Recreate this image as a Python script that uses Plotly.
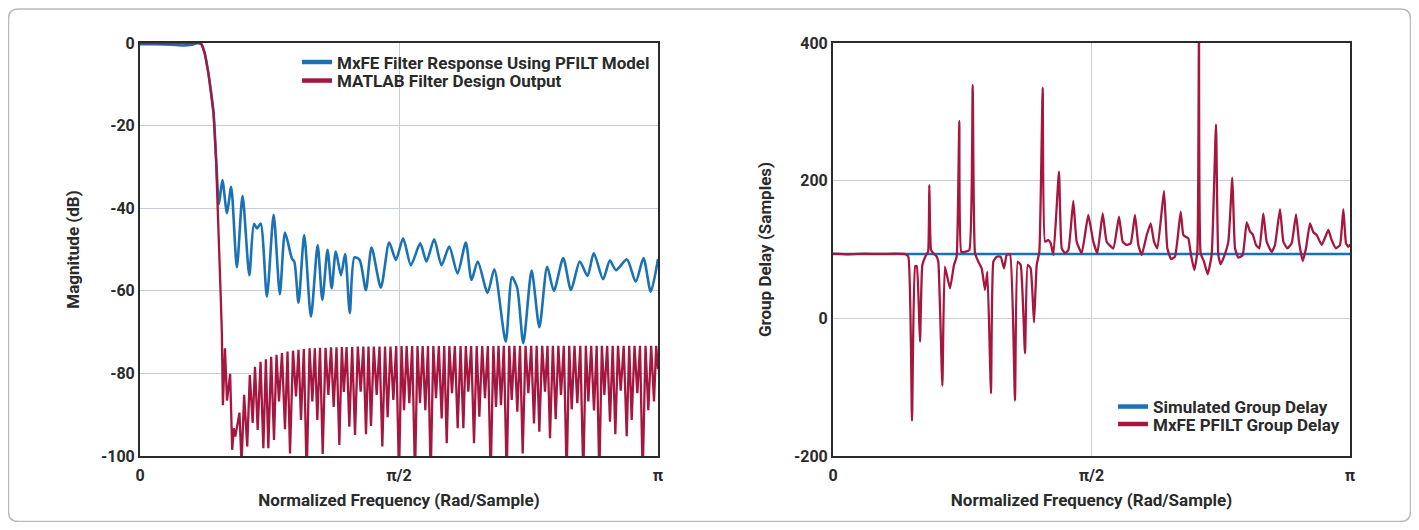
import plotly.graph_objects as go

# ---------------- data (normalized frequency, x = w/pi) ----------------
mag_blue_x = [0, 0.03, 0.06, 0.085, 0.1, 0.112, 0.119, 0.125, 0.132, 0.142, 0.147, 0.1525,
              0.159, 0.168, 0.176, 0.187, 0.198, 0.211, 0.220, 0.226, 0.233, 0.245, 0.258,
              0.270, 0.280, 0.293, 0.298, 0.306, 0.317, 0.330, 0.343, 0.352, 0.362, 0.370,
              0.378, 0.388, 0.396, 0.405, 0.414, 0.424, 0.436, 0.447, 0.465, 0.481, 0.494,
              0.508, 0.523, 0.541, 0.553, 0.568, 0.582, 0.597, 0.613, 0.629, 0.640, 0.652,
              0.671, 0.684, 0.706, 0.718, 0.728, 0.740, 0.756, 0.771, 0.786, 0.799, 0.817,
              0.832, 0.849, 0.864, 0.876, 0.894, 0.907, 0.919, 0.940, 0.957, 0.972, 0.986, 1.0]
mag_blue_y = [-0.3, -0.3, -0.4, -0.6, -0.4, 0, -0.4, -2.5, -7.3, -17, -28, -39,
              -33.2, -41.2, -34.8, -54.3, -37.0, -56.2, -43.8, -44.9, -43.7, -61.4, -41.6,
              -60.8, -45.9, -52.1, -53, -62.9, -46.5, -66.3, -48.9, -62.2, -50.1, -59.4,
              -50.5, -56.2, -51.1, -65.4, -51.9, -52.5, -59.8, -49.5, -59.2, -48.3, -52.5,
              -47.3, -53.8, -48.5, -52.9, -47.5, -53.8, -49.3, -55.8, -48.3, -57.4, -52.9,
              -60.5, -54.8, -72.3, -56.7, -59.2, -72.7, -55.1, -68.8, -54.2, -60.0, -52.1,
              -59.8, -52.9, -56.4, -50.9, -57.2, -52.7, -55.0, -52.4, -57.8, -52.1, -60.2, -52.3]

mag_red_x = [0, 0.05, 0.1, 0.115, 0.119, 0.125, 0.132, 0.142, 0.147, 0.152, 0.156, 0.158,
             0.160, 0.164, 0.168, 0.174, 0.178, 0.181, 0.184, 0.192, 0.196, 0.201, 0.207,
             0.212, 0.2175, 0.222, 0.2272, 0.2327, 0.2381, 0.243, 0.2477, 0.2532, 0.2587,
             0.2635, 0.2683, 0.2741, 0.2799, 0.2848, 0.2896, 0.2954, 0.3012, 0.306, 0.3108,
             0.3163, 0.3218, 0.3273, 0.3327, 0.3375, 0.3423, 0.3475, 0.3527, 0.3582, 0.3636,
             0.3688, 0.3739, 0.3794, 0.3848, 0.3897, 0.3935, 0.3988, 0.4041, 0.4096, 0.4151,
             0.4205, 0.4260, 0.4312, 0.4363, 0.4411, 0.4459, 0.4514, 0.4569, 0.4624, 0.4678,
             0.4730, 0.4781, 0.4836, 0.4891, 0.4946, 0.5000, 0.5049, 0.5097, 0.5148, 0.5199,
             0.5254, 0.5309, 0.5357, 0.5405, 0.5457, 0.5508, 0.5560, 0.5612, 0.5663, 0.5714,
             0.5769, 0.5824, 0.5873, 0.5921, 0.5972, 0.6023, 0.6078, 0.6133, 0.6188, 0.6242,
             0.6290, 0.6338, 0.6393, 0.6448, 0.6500, 0.6551, 0.6606, 0.6660, 0.6715, 0.6770,
             0.6822, 0.6873, 0.6921, 0.6969, 0.7024, 0.7079, 0.7128, 0.7176, 0.7230, 0.7284,
             0.7336, 0.7388, 0.7443, 0.7497, 0.7552, 0.7606, 0.7658, 0.7709, 0.7764, 0.7819,
             0.7867, 0.7915, 0.7970, 0.8025, 0.8076, 0.8127, 0.8182, 0.8237, 0.8286, 0.8334,
             0.8388, 0.8442, 0.8500, 0.8558, 0.8607, 0.8655, 0.8710, 0.8764, 0.8816, 0.8867,
             0.8916, 0.8964, 0.9019, 0.9073, 0.9125, 0.9176, 0.9228, 0.9280, 0.9338, 0.9396,
             0.9444, 0.9492, 0.9547, 0.9601, 0.9653, 0.9704, 0.9759, 0.9813, 0.9868, 0.9923,
             0.9965, 1.0]
mag_red_y = [0, 0, 0, 0, -0.3, -2.5, -7.3, -17, -29, -45, -62, -70,
             -87.7, -73.9, -86.6, -80.1, -98.5, -93.3, -95.3, -89.5, -102, -85.2, -97.7,
             -80.4, -92, -78.4, -93.7, -77.2, -98.1, -76.6, -98.1, -76.0, -96.1,
             -75.5, -86.8, -75.1, -93.5, -74.7, -99.4, -74.5, -85.6, -74.3, -91.3,
             -74.1, -105, -73.9, -86.8, -73.9, -91.3, -73.8, -99.5, -73.8, -85.2,
             -73.7, -88.1, -73.7, -97.3, -73.6, -84.5, -73.6, -92.9, -73.6, -94.9,
             -73.5, -84.4, -73.5, -94.7, -73.5, -92.7, -73.5, -85.2, -73.5, -97.7,
             -73.5, -90.6, -73.5, -86.4, -73.4, -105, -73.4, -88.9, -73.4, -87.2,
             -73.4, -105, -73.4, -87.2, -73.4, -88.9, -73.4, -105, -73.4, -86.0,
             -73.4, -90.9, -73.4, -96.9, -73.4, -84.8, -73.4, -93.3, -73.4, -93.3,
             -73.4, -84.4, -73.4, -96.9, -73.4, -90.5, -73.4, -86.0, -73.4, -105,
             -73.4, -88.1, -73.3, -87.7, -73.3, -105, -73.3, -86.4, -73.3, -89.3,
             -73.3, -99.4, -73.3, -84.8, -73.3, -92.1, -73.3, -94.1, -73.3, -84.4,
             -73.3, -95.7, -73.3, -91.1, -73.3, -85.2, -73.3, -105, -73.3, -88.7,
             -73.3, -87.2, -73.3, -105, -73.3, -86.8, -73.3, -89.0, -73.3, -105,
             -73.3, -85.2, -73.3, -91.7, -73.3, -94.7, -73.3, -84.2, -73.3, -95.2,
             -73.3, -91.3, -73.3, -84.8, -73.3, -105, -73.3, -88.9, -73.3, -86.8,
             -73.3, -79]

gd_sim_x = [0, 1.0]
gd_sim_y = [93.5, 93.5]

gd_pf_x = [0, 0.03, 0.06, 0.09, 0.12, 0.1393, 0.1457, 0.1528, 0.1590, 0.1620, 0.1683, 0.1728,
           0.1800, 0.1840, 0.1863, 0.1896, 0.1940, 0.2005, 0.2037, 0.2115, 0.2164, 0.2263,
           0.2340, 0.2392, 0.2443, 0.2482, 0.2553, 0.2637, 0.2702, 0.2747, 0.2811, 0.2876,
           0.2941, 0.2986, 0.3056, 0.3102, 0.3166, 0.3243, 0.3308, 0.3359, 0.3424, 0.3520,
           0.3572, 0.3630, 0.3714, 0.3765, 0.3823, 0.3888, 0.3940, 0.3991, 0.4056, 0.4102,
           0.4166, 0.4211, 0.4263, 0.4371, 0.4424, 0.4488, 0.4553, 0.4648, 0.4713, 0.4810,
           0.4938, 0.5035, 0.5113, 0.5216, 0.5293, 0.5422, 0.5532, 0.5603, 0.5680, 0.5758,
           0.5841, 0.5906, 0.5971, 0.6068, 0.6145, 0.6209, 0.6274, 0.6402, 0.6467, 0.6538,
           0.6615, 0.6725, 0.6776, 0.6822, 0.6873, 0.6925, 0.6989, 0.7047, 0.7079, 0.7111,
           0.7176, 0.7247, 0.7324, 0.7408, 0.7453, 0.7498, 0.7563, 0.7647, 0.7724, 0.7776,
           0.7840, 0.7924, 0.8002, 0.8066, 0.8118, 0.8182, 0.8247, 0.8323, 0.8388, 0.8485,
           0.8549, 0.8646, 0.8711, 0.8788, 0.8872, 0.8956, 0.9014, 0.9085, 0.9149, 0.9226,
           0.9291, 0.9356, 0.9453, 0.9581, 0.9645, 0.9729, 0.9807, 0.9871, 0.9923, 0.9968, 1.0]
gd_pf_y = [94, 93, 94, 93.5, 94, 93.5, 89.6, -149, 76, 76, -33.9, 77.5,
           92, 97, 193.7, 99.3, 94.5, 89.6, 82.3, -97.8, 75, 43.6,
           77.5, 89.6, 286.7, 96.6, 96.6, 99, 339, 94.5, 82.3, 72.6,
           41.2, 67.8, -109, 82.3, 89.6, 89.6, 72.6, 92, 93, -119.6,
           82.3, 77.5, -50.8, 77.5, 72.6, -5.8, 77.5, 96.6, 335, 111.4,
           113.8, 109, 92, 213, 101.7, 94.5, 99.3, 170.5, 111.4, 94.5,
           150.1, 111.4, 94.5, 152.5, 111.4, 101.7, 147.7, 111.4, 106.6, 109,
           150.1, 106.6, 92, 121, 138, 111.4, 101.7, 185, 101.7, 86.2,
           89.6, 155, 121, 118.6, 116.2, 92, 70.2, 96.6, 430, 94.5,
           82.3, 63.9, 92, 281.8, 92, 78.5, 89.6, 111.4, 204.4, 101.7,
           88.2, 92, 139.5, 126, 122, 106.6, 101.7, 152.5, 111.4, 96.6,
           106.6, 158.8, 111.4, 101.7, 109, 151.1, 111.4, 83.3, 101.7, 138,
           125, 121, 106.6, 128.3, 113.8, 101.7, 106.6, 158.8, 109, 104, 107.6]

x_tickvals = [0, 0.5, 1.0]
x_ticktext = ["0", "π/2", "π"]
mag_ticks = [0, -20, -40, -60, -80, -100]
gd_ticks = [400, 200, 0, -200]

names_left = ["MxFE Filter Response Using PFILT Model", "MATLAB Filter Design Output"]
names_right = ["Simulated Group Delay", "MxFE PFILT Group Delay"]

BLUE = "#1a72b5"
RED = "#a5173e"
TXT = "#2a2a2a"
GRID = "#c9cdd5"
FRAME = "#2b2b2b"
FONT = "Roboto"

# page body keeps its default 8px margin, so the figure is 16px smaller than the window
OFF = 8
W, H = 1419 - 2 * OFF, 530 - 2 * OFF


def px_x(p):
    return (p - OFF) / W


def px_y(p):
    return 1 - (p - OFF) / H


fig = go.Figure()
fig.add_trace(go.Scatter(x=mag_blue_x, y=mag_blue_y, mode="lines", name=names_left[0],
                         line=dict(color=BLUE, width=2.6, shape="spline", smoothing=0.7),
                         xaxis="x", yaxis="y", showlegend=False))
fig.add_trace(go.Scatter(x=mag_red_x, y=mag_red_y, mode="lines", name=names_left[1],
                         line=dict(color=RED, width=2.3),
                         xaxis="x", yaxis="y", showlegend=False))
fig.add_trace(go.Scatter(x=gd_sim_x, y=gd_sim_y, mode="lines", name=names_right[0],
                         line=dict(color=BLUE, width=2.6),
                         xaxis="x2", yaxis="y2", showlegend=False))
fig.add_trace(go.Scatter(x=gd_pf_x, y=gd_pf_y, mode="lines", name=names_right[1],
                         line=dict(color=RED, width=2.3, shape="spline", smoothing=0.4),
                         xaxis="x2", yaxis="y2", showlegend=False))

# legend entries (thicker key lines, one legend box per entry for exact row spacing)
legend_entries = [
    (names_left[0], BLUE, "x", "y", "legend"),
    (names_left[1], RED, "x", "y", "legend2"),
    (names_right[0], BLUE, "x2", "y2", "legend3"),
    (names_right[1], RED, "x2", "y2", "legend4"),
]
for nm, col, xa, ya, lg in legend_entries:
    fig.add_trace(go.Scatter(x=[None], y=[None], mode="lines", name=nm,
                             line=dict(color=col, width=4.5), xaxis=xa, yaxis=ya,
                             legend=lg, showlegend=True, hoverinfo="skip"))

tickfont = dict(family=FONT, size=16, color=TXT, weight=700)
titlefont = dict(family=FONT, size=17, color=TXT, weight=700)
legfont = dict(family=FONT, size=17, color=TXT, weight=700)

common_x = dict(range=[0, 1], tickvals=x_tickvals, ticktext=x_ticktext, showgrid=True,
                gridcolor=GRID, gridwidth=1, showline=True, mirror=True, linecolor=FRAME,
                linewidth=2, zeroline=False, ticks="", tickfont=tickfont,
                ticklabelstandoff=4, fixedrange=True, automargin=False)
common_y = dict(showgrid=True, gridcolor=GRID, gridwidth=1, showline=True, mirror=True,
                linecolor=FRAME, linewidth=2, zeroline=False, ticks="", tickfont=tickfont,
                ticklabelstandoff=0, fixedrange=True, automargin=False)


def leg(xp, yp):
    return dict(x=px_x(xp), y=px_y(yp), xanchor="left", yanchor="middle",
                bgcolor="rgba(0,0,0,0)", font=legfont, borderwidth=0,
                itemclick=False, itemdoubleclick=False)


fig.update_layout(
    width=W, height=H, margin=dict(l=0, r=0, t=0, b=0, autoexpand=False),
    paper_bgcolor="white", plot_bgcolor="white",
    font=dict(family=FONT, color=TXT),
    xaxis=dict(domain=[px_x(140), px_x(658)], anchor="y",
               title=dict(text="Normalized Frequency (Rad/Sample)", font=titlefont, standoff=10),
               **common_x),
    yaxis=dict(domain=[px_y(456), px_y(43)], anchor="x", range=[-100, 0],
               tickvals=mag_ticks, ticktext=[str(v) for v in mag_ticks],
               title=dict(text="Magnitude (dB)", font=titlefont, standoff=17),
               **common_y),
    xaxis2=dict(domain=[px_x(833), px_x(1350)], anchor="y2",
                title=dict(text="Normalized Frequency (Rad/Sample)", font=titlefont, standoff=10),
                **common_x),
    yaxis2=dict(domain=[px_y(456), px_y(43)], anchor="x2", range=[-200, 400],
                tickvals=gd_ticks, ticktext=[str(v) for v in gd_ticks],
                title=dict(text="Group Delay (Samples)", font=titlefont, standoff=18),
                **common_y),
    legend=leg(297, 62.5),
    legend2=leg(297, 81),
    legend3=leg(1113, 407),
    legend4=leg(1113, 424.5),
    showlegend=True,
)

# rounded card border around the whole figure
x0, x1 = px_x(8.5), px_x(1410.5)
y0, y1 = px_y(521.5), px_y(9)
rx, ry = 10 / W, 10 / H
path = (f"M {x0+rx},{y1} L {x1-rx},{y1} Q {x1},{y1} {x1},{y1-ry} "
        f"L {x1},{y0+ry} Q {x1},{y0} {x1-rx},{y0} L {x0+rx},{y0} Q {x0},{y0} {x0},{y0+ry} "
        f"L {x0},{y1-ry} Q {x0},{y1} {x0+rx},{y1} Z")
fig.add_shape(type="path", path=path, xref="paper", yref="paper",
              line=dict(color="#b9b9b9", width=1.5), layer="below")

fig.write_html("out.html", config={"displayModeBar": False})
